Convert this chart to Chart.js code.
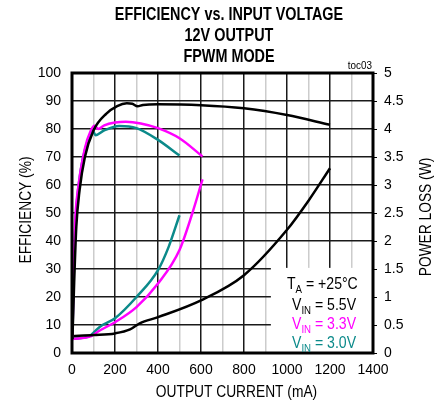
<!DOCTYPE html>
<html>
<head>
<meta charset="utf-8">
<script src="https://cdn.jsdelivr.net/npm/chart.js@4"></script>
<style>
html, body { margin: 0; padding: 0; background: #fff; }
</style>
</head>
<body>
<canvas id="chart" width="443" height="407"></canvas>
<script>
var FONT = '"Liberation Sans", Arial, sans-serif';
var MAGENTA = '#ff00ff';
var TEAL = '#0b8a8a';

// efficiency (%) vs output current (mA)
var eff55_mA = [2, 10, 20, 35, 60, 100, 160, 210, 255, 280, 305, 330, 400, 600, 800, 1000, 1200];
var eff55 = [5, 25, 45, 58, 70, 79.5, 85.5, 88.2, 89.2, 89.0, 88.1, 88.6, 88.8, 88.5, 87.4, 85.0, 81.5];

var eff33_mA = [2, 8, 14, 27, 58, 89, 105, 122, 150, 200, 250, 320, 400, 500, 607];
var eff33 = [5, 30, 46, 58, 72.5, 79.7, 81.2, 80.0, 81.3, 82.3, 82.6, 82.0, 80.3, 76.7, 70.2];

var eff30_mA = [2, 8, 16, 40, 70, 95, 110, 150, 220, 300, 400, 500];
var eff30 = [5, 28, 46, 65, 75, 79.5, 77.8, 79.5, 81.1, 80.3, 76.1, 70.5];

// power loss (W) vs output current (mA)
var loss55_mA = [0, 100, 200, 270, 315, 400, 600, 800, 1000, 1100, 1200];
var loss55 = [0.30, 0.32, 0.35, 0.42, 0.53, 0.64, 0.94, 1.39, 2.2, 2.72, 3.3];

var loss33_mA = [0, 90, 120, 200, 300, 400, 500, 560, 607];
var loss33 = [0.25, 0.30, 0.38, 0.55, 0.82, 1.24, 1.84, 2.5, 3.1];

var loss30_mA = [0, 80, 110, 130, 200, 300, 400, 450, 500];
var loss30 = [0.25, 0.30, 0.40, 0.47, 0.62, 1.0, 1.48, 1.9, 2.46];

var titleLines = ['EFFICIENCY vs. INPUT VOLTAGE', '12V OUTPUT', 'FPWM MODE'];
var xTitle = 'OUTPUT CURRENT (mA)';
var yTitle = 'EFFICIENCY (%)';
var y1Title = 'POWER LOSS (W)';

function pts(xs, ys) {
    return xs.map(function (x, i) { return { x: x, y: ys[i] }; });
}

function series(xs, ys, color, axis) {
    return {
        data: pts(xs, ys),
        borderColor: color,
        borderWidth: 2.5,
        pointRadius: 0,
        cubicInterpolationMode: 'monotone',
        fill: false,
        yAxisID: axis
    };
}

// narrow-looking text: squeeze horizontally
function narrow(ctx, s, x, y, font, sx, align, rot) {
    ctx.save();
    ctx.translate(x, y);
    if (rot) ctx.rotate(rot);
    ctx.scale(sx, 1);
    ctx.font = font;
    ctx.textAlign = align;
    ctx.fillText(s, 0, 0);
    ctx.restore();
}

// text with a subscript, e.g. V IN = 3.3V
function subText(ctx, x, y, main, sub, rest, color) {
    var sx = 0.88;
    ctx.save();
    ctx.fillStyle = color;
    ctx.textBaseline = 'alphabetic';
    ctx.translate(x, y);
    ctx.scale(sx, 1);
    ctx.textAlign = 'left';
    ctx.font = '16px ' + FONT;
    ctx.fillText(main, 0, 0);
    var w = ctx.measureText(main).width;
    ctx.font = '11px ' + FONT;
    ctx.fillText(sub, w, 4);
    w += ctx.measureText(sub).width;
    ctx.font = '16px ' + FONT;
    ctx.fillText(rest, w, 0);
    ctx.restore();
}

var decor = {
    id: 'decor',
    beforeDatasetsDraw: function (chart) {
        var ctx = chart.ctx, xs = chart.scales.x, ys = chart.scales.y;
        // white box behind the legend text hides the grid
        var l = xs.getPixelForValue(925), r = xs.getPixelForValue(1400);
        var t = ys.getPixelForValue(30.4), b = ys.getPixelForValue(0);
        ctx.save();
        ctx.fillStyle = '#fff';
        ctx.fillRect(l, t, r - l, b - t);
        ctx.restore();
    },
    afterDraw: function (chart) {
        var ctx = chart.ctx, a = chart.chartArea;
        var midY = (a.top + a.bottom) / 2;
        ctx.save();
        // frame
        ctx.strokeStyle = '#000';
        ctx.lineWidth = 3;
        ctx.strokeRect(a.left, a.top, a.right - a.left, a.bottom - a.top);

        ctx.fillStyle = '#000';
        ctx.textBaseline = 'middle';
        // title
        titleLines.forEach(function (s, i) {
            narrow(ctx, s, 229, 15 + i * 20.8, 'bold 18px ' + FONT, 0.8, 'center');
        });
        // toc03
        narrow(ctx, 'toc03', a.right - 1, 66, '11px ' + FONT, 0.9, 'right');
        // axis titles
        narrow(ctx, xTitle, (a.left + a.right) / 2 + 14, 393, '16px ' + FONT, 0.86, 'center');
        narrow(ctx, yTitle, 27, midY - 3, '16px ' + FONT, 0.86, 'center', -Math.PI / 2);
        narrow(ctx, y1Title, 427, midY + 4, '16px ' + FONT, 0.86, 'center', -Math.PI / 2);
        ctx.restore();

        // legend text
        subText(ctx, 287, 289, 'T', 'A', ' = +25°C', '#000');
        subText(ctx, 292, 310, 'V', 'IN', ' = 5.5V', '#000');
        subText(ctx, 292, 329, 'V', 'IN', ' = 3.3V', MAGENTA);
        subText(ctx, 292, 348, 'V', 'IN', ' = 3.0V', TEAL);
    }
};

new Chart(document.getElementById('chart'), {
    type: 'line',
    data: {
        datasets: [
            series(eff55_mA, eff55, '#000', 'y'),
            series(eff33_mA, eff33, MAGENTA, 'y'),
            series(eff30_mA, eff30, TEAL, 'y'),
            series(loss55_mA, loss55, '#000', 'y1'),
            series(loss33_mA, loss33, MAGENTA, 'y1'),
            series(loss30_mA, loss30, TEAL, 'y1')
        ]
    },
    options: {
        responsive: false,
        animation: false,
        layout: { padding: { top: 73 } },
        plugins: {
            legend: { display: false },
            tooltip: { enabled: false }
        },
        scales: {
            x: {
                type: 'linear',
                min: 0, max: 1400,
                afterFit: function (s) { s.height = 54; },
                border: { display: false },
                grid: {
                    drawTicks: false,
                    lineWidth: 1.5,
                    color: function (c) { return c.tick.value % 200 === 0 ? '#1a1a1a' : '#cccccc'; }
                },
                ticks: {
                    stepSize: 100,
                    padding: 9,
                    maxRotation: 0,
                    autoSkip: false,
                    color: '#000',
                    font: { family: FONT, size: 14 },
                    callback: function (v) { return v % 200 === 0 ? String(v) : ''; }
                }
            },
            y: {
                position: 'left',
                min: 0, max: 100,
                afterFit: function (s) { s.width = 72; },
                border: { display: false },
                grid: { drawTicks: false, lineWidth: 1.5, color: '#1a1a1a' },
                ticks: {
                    stepSize: 10,
                    padding: 11,
                    color: '#000',
                    font: { family: FONT, size: 14 }
                }
            },
            y1: {
                position: 'right',
                min: 0, max: 5,
                afterFit: function (s) { s.width = 70; },
                border: { display: false },
                grid: { drawOnChartArea: false, drawTicks: true, tickLength: 4, color: '#000', lineWidth: 1 },
                ticks: {
                    stepSize: 0.5,
                    padding: 7,
                    color: '#000',
                    font: { family: FONT, size: 14 },
                    callback: function (v) { return String(Math.round(v * 10) / 10); }
                }
            }
        }
    },
    plugins: [decor]
});
</script>
</body>
</html>
